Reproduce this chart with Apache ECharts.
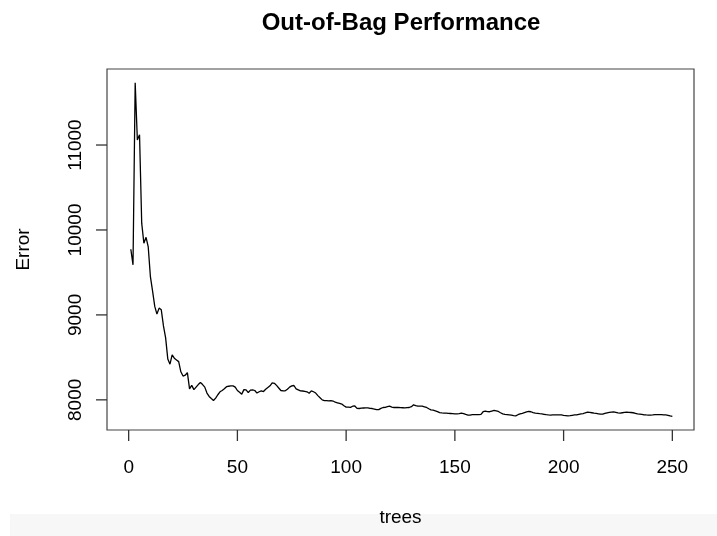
<!DOCTYPE html>
<html>
<head>
<meta charset="utf-8">
<script src="https://cdn.jsdelivr.net/npm/echarts@6/dist/echarts.min.js"></script>
<style>html,body{margin:0;padding:0;background:#fff}#c{width:717px;height:536px}</style>
</head>
<body>
<div id="c"></div>
<script>
const titleText = "Out-of-Bag Performance";
const xName = "trees";
const yName = "Error";
const xTicks = [0, 50, 100, 150, 200, 250];
const yTicks = [8000, 9000, 10000, 11000];
const errorValues = [
  9773, 9590, 11733, 11060, 11120, 10080, 9843, 9914, 9800, 9450,
  9280, 9100, 9010, 9080, 9060, 8870, 8730, 8480, 8420, 8530,
  8490, 8470, 8450, 8330, 8280, 8290, 8320, 8130, 8170, 8120,
  8150, 8180, 8205, 8180, 8150, 8080, 8040, 8015, 7992, 8020,
  8060, 8095, 8110, 8130, 8155, 8160, 8165, 8165, 8150, 8110,
  8090, 8067, 8120, 8118, 8086, 8115, 8118, 8110, 8080, 8095,
  8106, 8098, 8125, 8145, 8165, 8200, 8195, 8170, 8140, 8110,
  8106, 8106, 8125, 8150, 8165, 8169, 8130, 8118, 8106, 8104,
  8100, 8095, 8078, 8106, 8095, 8080, 8050, 8025, 8000, 7992,
  7990, 7988, 7990, 7986, 7972, 7965, 7958, 7950, 7930, 7914,
  7914, 7912, 7925, 7928, 7900, 7898, 7902, 7904, 7906, 7906,
  7900, 7898, 7892, 7884, 7885, 7900, 7910, 7912, 7920, 7925,
  7915, 7910, 7912, 7910, 7908, 7907, 7906, 7908, 7910, 7920,
  7941, 7932, 7925, 7926, 7925, 7918, 7910, 7895, 7882, 7878,
  7871, 7862, 7850, 7846, 7844, 7843, 7840, 7839, 7838, 7836,
  7835, 7838, 7843, 7838, 7828, 7821, 7820, 7825, 7827, 7827,
  7826, 7829, 7860, 7866, 7862, 7860, 7868, 7875, 7870, 7863,
  7848, 7835, 7830, 7827, 7824, 7820, 7815, 7812, 7825, 7835,
  7842, 7850, 7858, 7863, 7860, 7850, 7843, 7840, 7837, 7835,
  7830, 7825, 7822, 7820, 7822, 7824, 7824, 7824, 7822, 7818,
  7815, 7812, 7814, 7818, 7822, 7824, 7830, 7836, 7839, 7848,
  7855, 7852, 7848, 7843, 7840, 7836, 7832, 7831, 7840, 7847,
  7852, 7856, 7859, 7853, 7847, 7843, 7848, 7852, 7855, 7853,
  7851, 7848, 7842, 7836, 7832, 7828, 7824, 7822, 7821, 7820,
  7822, 7825, 7827, 7826, 7825, 7824, 7822, 7818, 7810, 7805
];
const trees = errorValues.map((v, i) => i + 1);

const xMin = -9.96, xMax = 259.96, yMin = 7645, yMax = 11895;
const font = "Liberation Sans, Arial, Helvetica, sans-serif";
const chart = echarts.init(document.getElementById('c'), null, {renderer: 'canvas'});
chart.setOption({
  animation: false,
  backgroundColor: '#ffffff',
  graphic: [{
    id: 'band', type: 'rect', z: -10, silent: true,
    shape: {x: 10, y: 514, width: 707, height: 22},
    style: {fill: '#f7f7f7'}
  }],
  title: {
    text: titleText, left: 396, top: 6, textAlign: 'center',
    textStyle: {fontFamily: font, fontWeight: 'bold', fontSize: 24, color: '#000'}
  },
  grid: {left: 107, right: 23, top: 69, bottom: 106, show: true,
    borderColor: '#444', borderWidth: 1.2, backgroundColor: 'transparent'},
  xAxis: {
    type: 'value', min: xMin, max: xMax,
    name: xName, nameLocation: 'middle', nameGap: 78,
    nameTextStyle: {fontFamily: font, fontSize: 19, color: '#000'},
    axisLine: {show: false, onZero: false},
    splitLine: {show: false},
    axisTick: {show: false},
    axisLabel: {customValues: xTicks, margin: 28, fontFamily: font, fontSize: 19, color: '#000',
      formatter: v => String(v)}
  },
  yAxis: {
    type: 'value', min: yMin, max: yMax,
    name: yName, nameLocation: 'middle', nameGap: 74, nameRotate: 90,
    nameTextStyle: {fontFamily: font, fontSize: 19, color: '#000'},
    axisLine: {show: false, onZero: false},
    splitLine: {show: false},
    axisTick: {show: false},
    axisLabel: {customValues: yTicks, rotate: 90, margin: 22, fontFamily: font, fontSize: 19, color: '#000',
      formatter: v => String(v)}
  },
  series: [{
    type: 'line', data: trees.map((t, i) => [t, errorValues[i]]),
    showSymbol: false, symbol: 'none',
    lineStyle: {color: '#000', width: 1.3}
  }]
});

// Tick marks placed through the chart's own scales
const tickMarks = [];
yTicks.forEach(v => {
  const p = chart.convertToPixel({gridIndex: 0}, [xMin, v]);
  tickMarks.push({type: 'line', silent: true, z: 5,
    shape: {x1: p[0] - 11, y1: p[1], x2: p[0], y2: p[1]},
    style: {stroke: '#333', lineWidth: 1.3}});
});
xTicks.forEach(v => {
  const p = chart.convertToPixel({gridIndex: 0}, [v, yMin]);
  tickMarks.push({type: 'line', silent: true, z: 5,
    shape: {x1: p[0], y1: p[1], x2: p[0], y2: p[1] + 11},
    style: {stroke: '#333', lineWidth: 1.3}});
});
chart.setOption({graphic: tickMarks.map((g, i) => Object.assign({id: 'tick' + i}, g))});
</script>
</body>
</html>
